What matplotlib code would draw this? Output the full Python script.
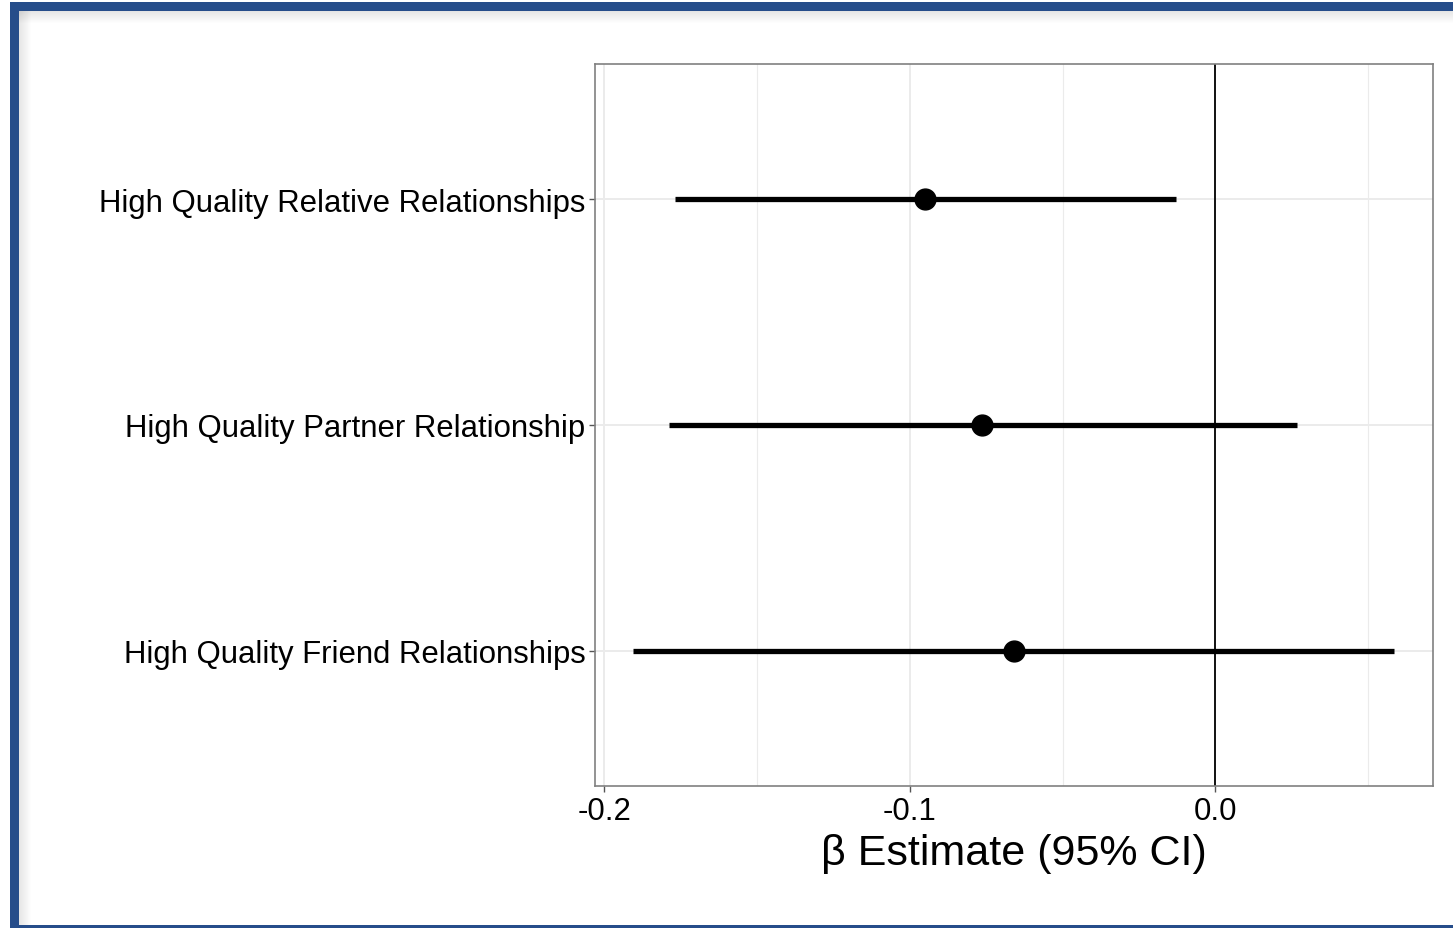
import numpy as np
import matplotlib.pyplot as plt
from matplotlib.patches import Rectangle

plt.rcParams['font.family'] = ['Liberation Sans', 'DejaVu Sans']

# model estimates with 95% confidence limits
labels = ['High Quality Relative Relationships',
          'High Quality Partner Relationship',
          'High Quality Friend Relationships']
estimate = [-0.0951, -0.0764, -0.0659]
lower = [-0.1769, -0.1790, -0.1907]
upper = [-0.0129, 0.0268, 0.0584]
xticks = [-0.2, -0.1, 0.0]
xtick_labels = ['-0.2', '-0.1', '0.0']
minor_ticks = [-0.15, -0.05, 0.05]

W, H = 1453, 929
fig = plt.figure(figsize=(W / 100, H / 100), dpi=100)
fig.patch.set_facecolor('white')

# blue slide frame with a soft shadow along its inner edge
blue = '#264d8a'
for i in range(12):
    a = 0.10 * (1 - i / 12)
    fig.patches.append(Rectangle((19 + i, 0), 1, H - 12, transform=None,
                                 facecolor='black', alpha=a, edgecolor='none'))
    fig.patches.append(Rectangle((19, H - 13 - i), W, 1, transform=None,
                                 facecolor='black', alpha=a, edgecolor='none'))
fig.patches.append(Rectangle((10, H - 12), W, 9, transform=None,
                             facecolor=blue, edgecolor='none'))
fig.patches.append(Rectangle((10, 0), 9, H - 3, transform=None,
                             facecolor=blue, edgecolor='none'))
fig.patches.append(Rectangle((10, 0), W, 3, transform=None,
                             facecolor=blue, edgecolor='none'))

ax = fig.add_axes([595 / W, (H - 787) / H, (1433 - 595) / W, (787 - 65) / H])

ypos = np.arange(len(labels))[::-1] + 1
ax.set_xlim(-0.2031, 0.0712)
ax.set_ylim(0.4, 3.6)

for v in minor_ticks:
    ax.axvline(v, color='#ebebeb', lw=0.8, zorder=0)
for v in xticks:
    ax.axvline(v, color='#ebebeb', lw=1.4, zorder=0)
for y in ypos:
    ax.axhline(y, color='#ebebeb', lw=1.4, zorder=0)

ax.axvline(0, color='black', lw=1.3, zorder=1)
ax.hlines(ypos, lower, upper, color='black', lw=3.8, zorder=2)
ax.plot(estimate, ypos, 'o', color='black', ms=15, zorder=3)

ax.set_yticks(ypos)
ax.set_yticklabels(labels, fontsize=22.4, color='black')
ax.set_xticks(xticks)
ax.set_xticklabels(xtick_labels, fontsize=22.4, color='black')
ax.tick_params(length=4, width=1, color='#555555', pad=3)
ax.set_xlabel('β Estimate (95% CI)', fontsize=31, labelpad=5)

for s in ax.spines.values():
    s.set_color('#808080')
    s.set_linewidth(1.2)

fig.savefig('out.png', dpi=100)
